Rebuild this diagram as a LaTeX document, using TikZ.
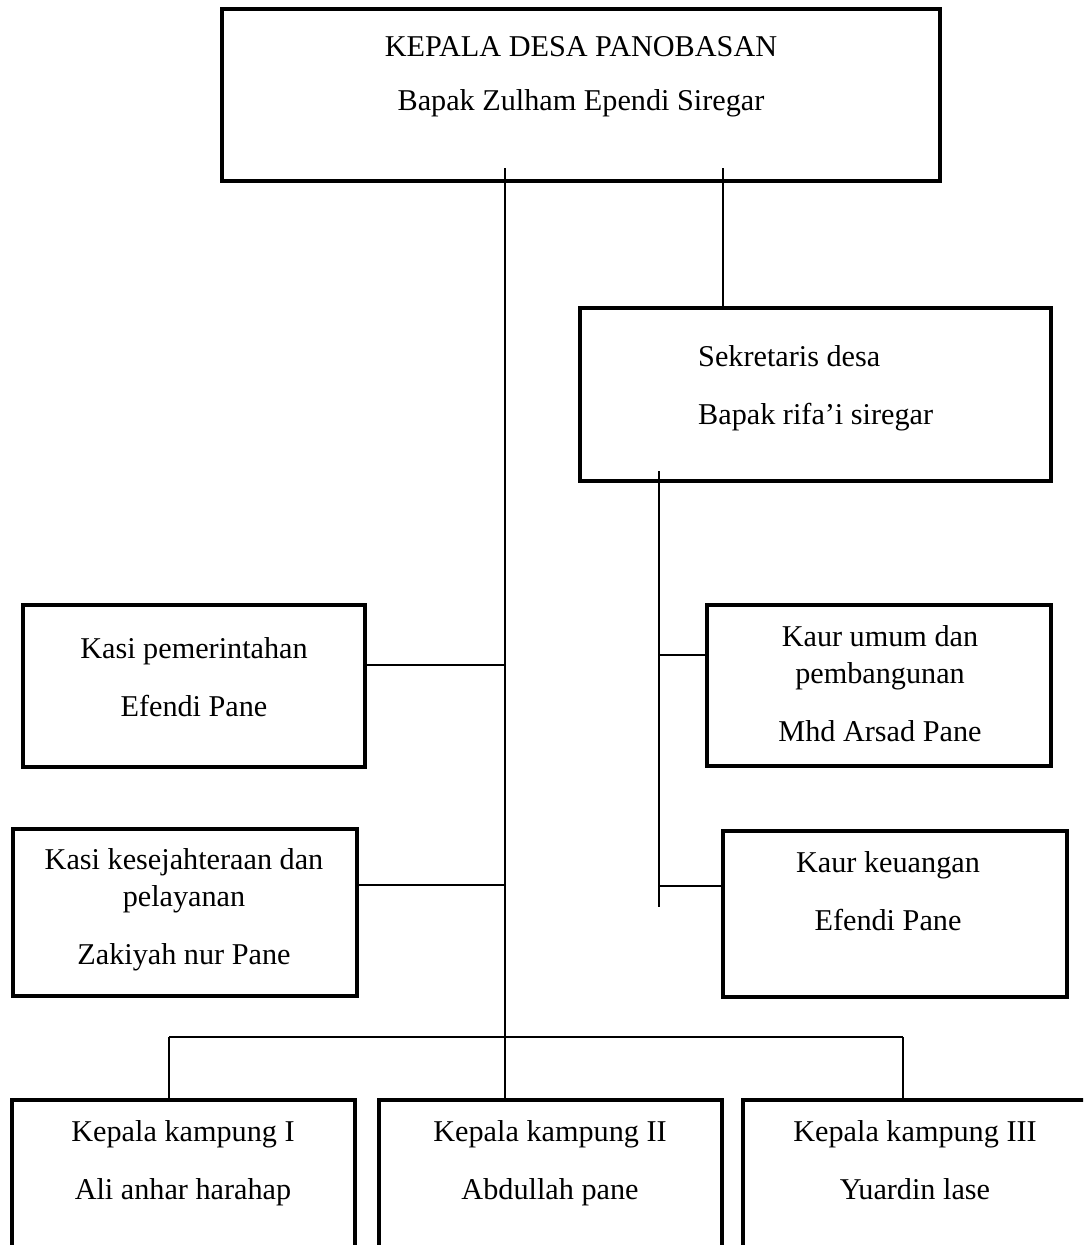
\documentclass[tikz,border=0pt]{standalone}
\usepackage{fontspec}
\setmainfont{Liberation Serif}
\usetikzlibrary{positioning}
\tikzset{
    orgBox/.style={rectangle, draw=black, line width=2.6pt, minimum width=6.86cm, minimum height=3.3cm},
    orgText/.style={align=center, font=\fontsize{17.2}{21}\selectfont},
    line/.style={draw=black, line width=0.9pt}
}
\begin{document}
\begin{tikzpicture}[x=0.02cm, y=-0.02cm]
  \clip (0,0) rectangle (1083,1245);

  \node (kades) [orgBox, minimum width=14.36cm, minimum height=3.44cm] at (581,95) {};
  \node (kadesT) [orgText] at (581,77) {KEPALA DESA PANOBASAN\\[10pt]Bapak Zulham Ependi Siregar};

  \node (sekdes) [orgBox, minimum width=9.42cm, minimum height=3.46cm] at (815.5,394.5) {};
  \node (sekdesT) [orgText, align=left, anchor=west] at (692,388) {Sekretaris desa\\[12pt]Bapak rifa'i siregar};

  \node (kasi1) [orgBox, minimum width=6.84cm, minimum height=3.24cm] at (194,686) {};
  \node (kasi1T) [orgText] at (194,677) {Kasi pemerintahan\\[12pt]Efendi Pane};

  \node (kasi2) [orgBox, minimum width=6.88cm, minimum height=3.34cm] at (185,912.5) {};
  \node (kasi2T) [orgText] at (184,910) {Kasi kesejahteraan dan\\pelayanan\\[12pt]Zakiyah nur Pane};

  \node (kaur1) [orgBox, minimum width=6.88cm, minimum height=3.22cm] at (879,685.5) {};
  \node (kaur1T) [orgText] at (880,684) {Kaur umum dan\\pembangunan\\[12pt]Mhd Arsad Pane};

  \node (kaur2) [orgBox, minimum width=6.88cm, minimum height=3.32cm] at (895,914) {};
  \node (kaur2T) [orgText] at (888,891) {Kaur keuangan\\[12pt]Efendi Pane};

  \node (kp1) [orgBox, minimum height=3.5cm] at (183.5,1187.5) {};
  \node (kp1T) [orgText] at (183,1163) {Kepala kampung I\\[12pt]Ali anhar harahap};
  \node (kp2) [orgBox, minimum height=3.5cm] at (550.5,1187.5) {};
  \node (kp2T) [orgText] at (550,1163) {Kepala kampung II\\[12pt]Abdullah pane};
  \node (kp3) [orgBox, minimum height=3.5cm] at (914.5,1187.5) {};
  \node (kp3T) [orgText] at (915,1160) {Kepala kampung III\\[12pt]Yuardin lase};

  % main lines
  \coordinate (m0) at (505,168);
  \coordinate (s0) at (723,168);
  \coordinate (r0) at (659,471);
  \coordinate (r1) at (659,907);
  \draw[line] (m0) -- (m0 |- kp2.north);
  \draw[line] (s0) -- (s0 |- sekdes.north);
  \draw[line] (r0) -- (r1);

  % branches
  \coordinate (j1) at (505,665);
  \coordinate (j2) at (505,885);
  \coordinate (j3) at (659,655);
  \coordinate (j4) at (659,886);
  \draw[line] (j1) -- (j1 -| kasi1.east);
  \draw[line] (j2) -- (j2 -| kasi2.east);
  \draw[line] (j3) -- (j3 -| kaur1.west);
  \draw[line] (j4) -- (j4 -| kaur2.west);

  % kepala kampung
  \coordinate (b1) at (169,1037);
  \coordinate (b3) at (903,1037);
  \draw[line] (b1) -- (b3);
  \draw[line] (b1) -- (b1 |- kp1.north);
  \draw[line] (b3) -- (b3 |- kp3.north);
\end{tikzpicture}
\end{document}
